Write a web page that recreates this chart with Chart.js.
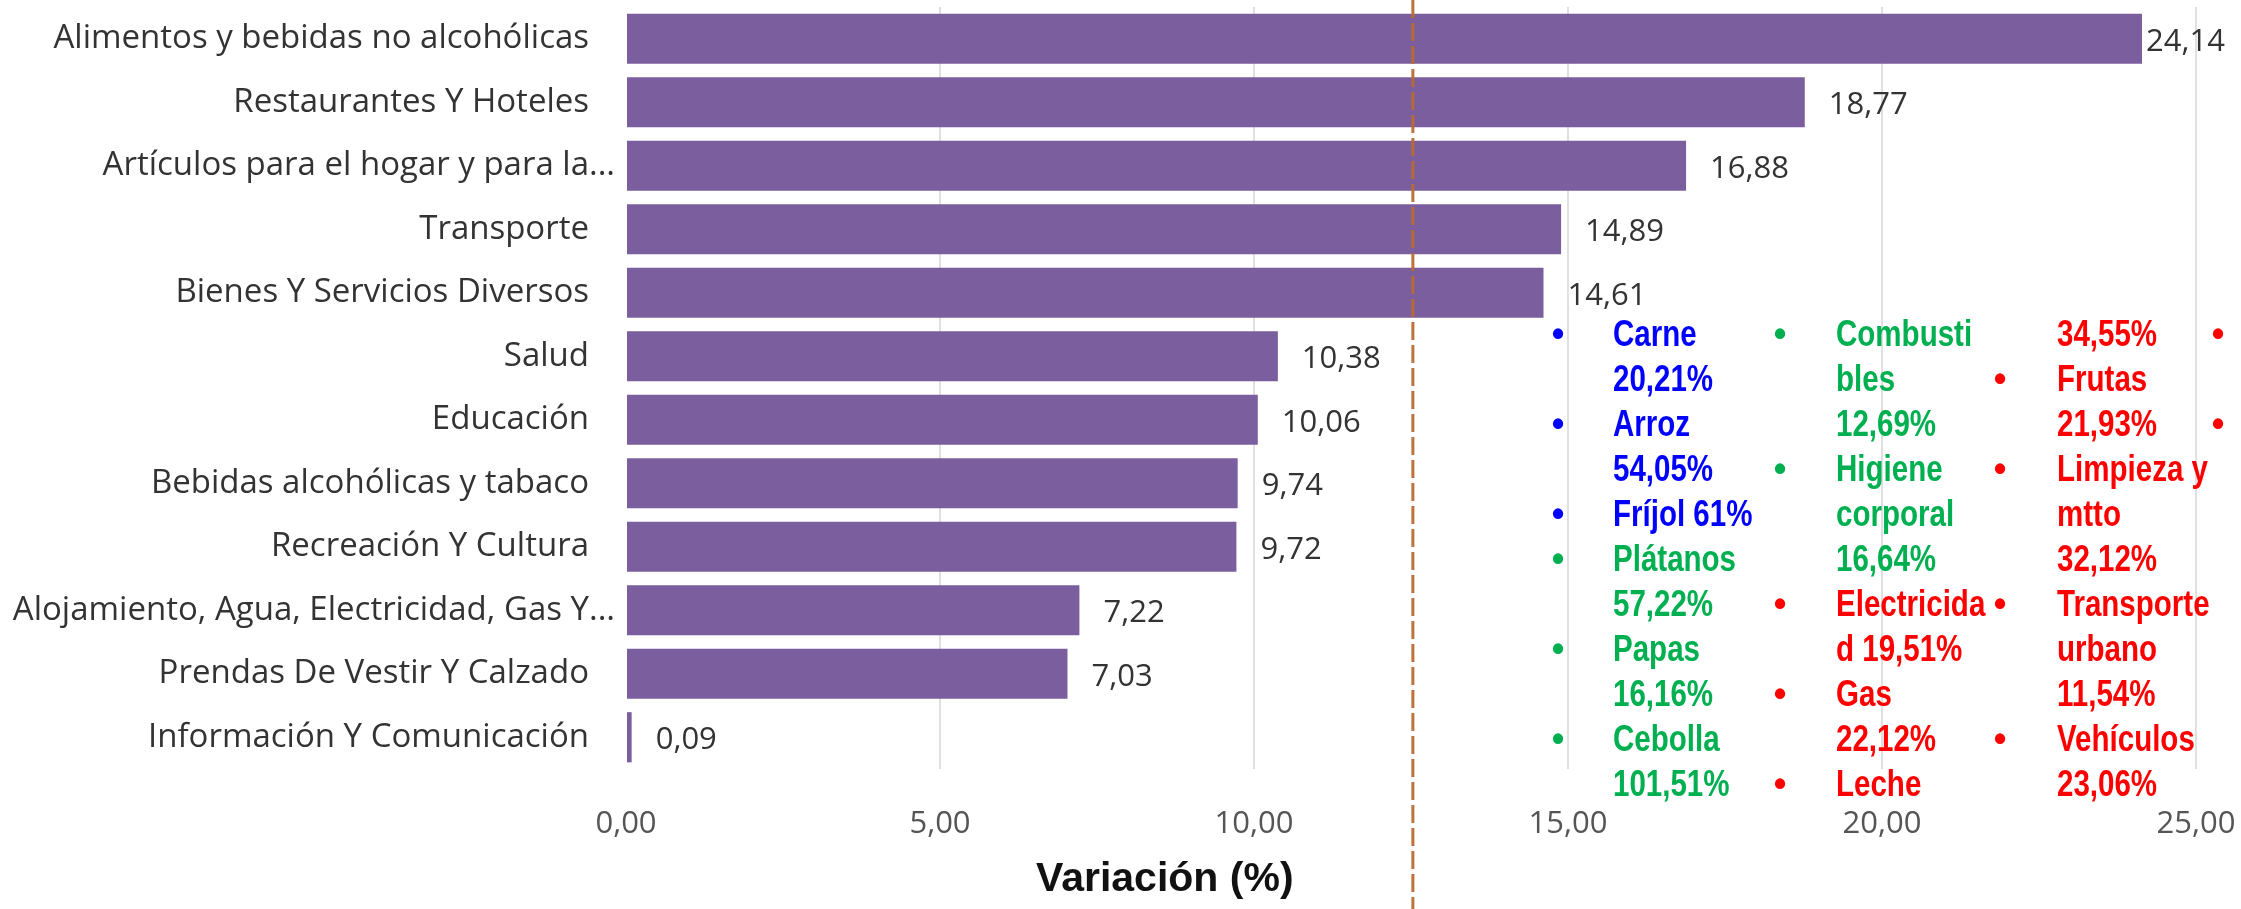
<!DOCTYPE html>
<html>
<head>
<meta charset="utf-8">
<script src="https://cdn.jsdelivr.net/npm/chart.js@4/dist/chart.umd.min.js"></script>
<style>
html,body{margin:0;padding:0;background:#fff;}
#wrap{position:relative;width:2241px;height:909px;overflow:hidden;background:#fff;}
#chart{position:absolute;left:0;top:0;}
.item{position:absolute;white-space:nowrap;font-family:"Liberation Sans",Arial,sans-serif;font-weight:bold;font-size:36px;line-height:45px;transform-origin:0 50%;}
.txt{transform:scaleX(0.82);}
.dot{transform:translateX(-50%);}
</style>
</head>
<body>
<div id="wrap">
<canvas id="chart" width="2241" height="909"></canvas>
</div>
<script>

/* DATA */

const categories=[
"Alimentos y bebidas no alcohólicas",
"Restaurantes Y Hoteles",
"Artículos para el hogar y para la...",
"Transporte",
"Bienes Y Servicios Diversos",
"Salud",
"Educación",
"Bebidas alcohólicas y tabaco",
"Recreación Y Cultura",
"Alojamiento, Agua, Electricidad, Gas Y...",
"Prendas De Vestir Y Calzado",
"Información Y Comunicación"
];

const variation=[24.14,18.77,16.88,14.89,14.61,10.38,10.06,9.74,9.72,7.22,7.03,0.09];

const xTicks=[0,5,10,15,20,25];

const refValue=12.53;

const axisTitle="Variación (%)";

/* text list, one entry per line: [text, group, bullet] */

const listCol1=[
["Carne","azul",true],["20,21%","azul"],
["Arroz","azul",true],["54,05%","azul"],
["Fríjol 61%","azul",true],
["Plátanos","verde",true],["57,22%","verde"],
["Papas","verde",true],["16,16%","verde"],
["Cebolla","verde",true],["101,51%","verde"]
];

const listCol2=[
["Combusti","verde",true],["bles","verde"],["12,69%","verde"],
["Higiene","verde",true],["corporal","verde"],["16,64%","verde"],
["Electricida","rojo",true],["d 19,51%","rojo"],
["Gas","rojo",true],["22,12%","rojo"],
["Leche","rojo",true]
];

const listCol3=[
["34,55%","rojo"],
["Frutas","rojo",true],["21,93%","rojo"],
["Limpieza y","rojo",true],["mtto","rojo"],["32,12%","rojo"],
["Transporte","rojo",true],["urbano","rojo"],["11,54%","rojo"],
["Vehículos","rojo",true],["23,06%","rojo"]
];

const listCol4=[
["","rojo",true],null,
["","rojo",true]
];

/* STYLE */

const groupColor={azul:"#0000ff",verde:"#00b050",rojo:"#ff0000"};
const barColor="#7b5e9d";
const labelFont="33px 'Open Sans', sans-serif";

function fmt(v){ return v.toFixed(2).replace(".",","); }

/* PLUGINS */

const refLine={
id:"refLine",
afterDatasetsDraw(chart){
const ctx=chart.ctx;
const x=chart.scales.x.getPixelForValue(refValue);
ctx.save();
ctx.strokeStyle="rgba(184,108,52,0.95)";
ctx.lineWidth=3;
ctx.setLineDash([18,5]);
ctx.beginPath();
ctx.moveTo(x,0);
ctx.lineTo(x,chart.height);
ctx.stroke();
ctx.restore();
}
};

const barLabels={
id:"barLabels",
afterDatasetsDraw(chart){
const ctx=chart.ctx;
const meta=chart.getDatasetMeta(0);
ctx.save();
ctx.font="31px 'Open Sans', sans-serif";
ctx.fillStyle="#333";
ctx.textBaseline="middle";
ctx.textAlign="left";
meta.data.forEach((bar,i)=>{
let t=fmt(variation[i]);
let w=ctx.measureText(t).width;
let x=Math.min(bar.x+24,chart.width-16-w);
if(x<bar.x+2) x=bar.x+2;
ctx.fillText(t,x,bar.y+3);
});
ctx.restore();
}
};

/* truncated labels: the "..." hangs past the label edge */

const ellipsis={
id:"ellipsis",
afterDraw(chart){
const ctx=chart.ctx;
const y=chart.scales.y;
ctx.save();
ctx.font=labelFont;
ctx.fillStyle="#333";
ctx.textBaseline="middle";
ctx.textAlign="left";
categories.forEach((c,i)=>{
if(c.endsWith("...")) ctx.fillText("...",y.right-37,y.getPixelForValue(i));
});
ctx.restore();
}
};

const xTitle={
id:"xTitle",
afterDraw(chart){
const ctx=chart.ctx;
ctx.save();
ctx.font="bold 41px 'Liberation Sans', Arial, sans-serif";
ctx.fillStyle="#111";
ctx.textAlign="center";
ctx.textBaseline="middle";
ctx.fillText(axisTitle,chart.scales.x.getPixelForValue(8.58),chart.chartArea.bottom+111);
ctx.restore();
}
};

/* CHART */

Chart.defaults.font.family="'Open Sans', sans-serif";

new Chart(document.getElementById("chart"),{
type:"bar",
data:{
labels:categories,
datasets:[{
data:variation,
backgroundColor:barColor,
borderWidth:0,
categoryPercentage:1,
barPercentage:0.79
}]
},
options:{
indexAxis:"y",
responsive:false,
animation:false,
devicePixelRatio:1,
layout:{padding:{left:0,right:45,top:7,bottom:0}},
plugins:{legend:{display:false},tooltip:{enabled:false}},
scales:{
x:{
min:0,max:25,
afterBuildTicks(s){ s.ticks=xTicks.map(v=>({value:v})); },
afterFit(s){ s.height=140; s.paddingLeft=0; s.paddingRight=0; },
border:{display:false},
grid:{drawTicks:false,lineWidth:2,color:c=>c.tick&&c.tick.value===0?"rgba(0,0,0,0)":"#e0e0e0"},
ticks:{padding:37,color:"#555",font:{size:31},callback:v=>fmt(v),maxRotation:0}
},
y:{
afterFit(s){ s.width=626; s.paddingTop=0; s.paddingBottom=0; },
border:{display:false},
grid:{display:false,drawTicks:false},
ticks:{
padding:37,color:"#333",font:{size:33},autoSkip:false,
callback:function(v){ return this.getLabelForValue(v).replace(/\.\.\.$/,""); }
}
}
}
},
plugins:[refLine,barLabels,ellipsis,xTitle]
});

/* TEXT LIST */

const wrap=document.getElementById("wrap");
const listCols=[listCol1,listCol2,listCol3,listCol4];
const colX=[[1558,1613],[1780,1836],[2000,2057],[2218,2273]];

listCols.forEach((col,ci)=>{
col.forEach((line,k)=>{
if(!line) return;
let top=311+k*45;
let color=groupColor[line[1]];
if(line[2]){
let d=document.createElement("div");
d.className="item dot";
d.style.left=colX[ci][0]+"px";
d.style.top=top+"px";
d.style.color=color;
d.textContent="•";
wrap.appendChild(d);
}
if(line[0]){
let t=document.createElement("div");
t.className="item txt";
t.style.left=colX[ci][1]+"px";
t.style.top=top+"px";
t.style.color=color;
t.textContent=line[0];
wrap.appendChild(t);
}
});
});

</script>
</body>
</html>
